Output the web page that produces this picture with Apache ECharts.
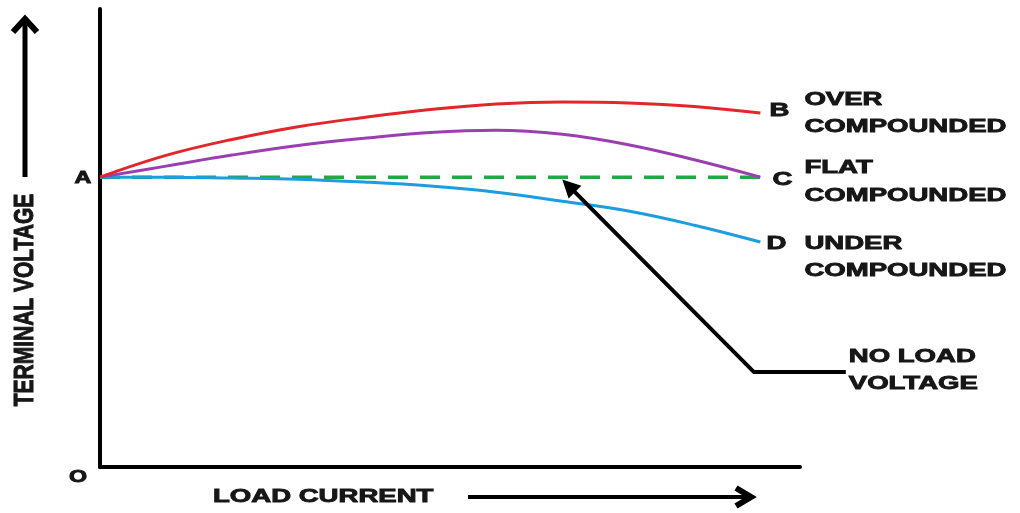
<!DOCTYPE html>
<html>
<head>
<meta charset="utf-8">
<script src="https://cdn.jsdelivr.net/npm/echarts@6/dist/echarts.min.js"></script>
<style>
html,body{margin:0;padding:0;background:#fff;}
#c{width:1020px;height:513px;}
</style>
</head>
<body>
<div id="c"></div>
<script>
// Load current (arbitrary units) and terminal voltage (% of no-load voltage)
const loadCurrent = [0, 1, 2, 3, 4, 5, 6, 7, 8, 9, 10];
const overCompounded  = [100, 107.5, 113.0, 117.4, 120.6, 123.3, 125.2, 125.9, 125.6, 124.4, 122.1];
const flatCompounded  = [100, 103.8, 107.6, 110.9, 113.4, 115.4, 116.2, 114.8, 111.2, 106.0, 100];
const underCompounded = [100, 100, 99.7, 99.3, 98.3, 96.9, 94.8, 91.7, 88.3, 83.4, 77.6];
const noLoadVoltage   = [100, 100, 100, 100, 100, 100, 100, 100, 100, 100, 100];

const endLetters = ['B', 'C', 'D'];
const endCaptions = [['OVER', 'COMPOUNDED'], ['FLAT', 'COMPOUNDED'], ['UNDER', 'COMPOUNDED']];
const noLoadCaption = ['NO LOAD', 'VOLTAGE'];
const axisTitles = { x: 'LOAD CURRENT', y: 'TERMINAL VOLTAGE', origin: 'O', start: 'A' };
// leader annotation anchor points in data space (tip on no-load line, elbow)
const leaderTip = [7.0, 99.2];
const leaderElbow = [9.9, 32.8];

const pairs = arr => loadCurrent.map((x, i) => [x, arr[i]]);

const chart = echarts.init(document.getElementById('c'), null, { renderer: 'canvas' });

const axisCommon = {
  type: 'value',
  axisLine: { show: true, onZero: false, lineStyle: { color: '#000', width: 4 } },
  axisTick: { show: false },
  axisLabel: { show: false },
  splitLine: { show: false }
};

const option = {
  animation: false,
  backgroundColor: '#fff',
  grid: { left: 100, right: 220, top: 9, bottom: 46, containLabel: false },
  xAxis: Object.assign({}, axisCommon, { min: 0, max: 10.6 }),
  yAxis: Object.assign({}, axisCommon, { min: 0, max: 158 }),
  series: [
    { name: 'No load voltage', type: 'line', data: pairs(noLoadVoltage), showSymbol: false, smooth: false,
      lineStyle: { color: '#22a743', width: 3.5, type: [20, 12] }, z: 2 },
    { name: 'Under compounded', type: 'line', data: pairs(underCompounded), showSymbol: false, smooth: 0.4,
      lineStyle: { color: '#1c9ddf', width: 3 }, z: 3 },
    { name: 'Flat compounded', type: 'line', data: pairs(flatCompounded), showSymbol: false, smooth: 0.4,
      lineStyle: { color: '#9b3fb0', width: 3 }, z: 4 },
    { name: 'Over compounded', type: 'line', data: pairs(overCompounded), showSymbol: false, smooth: 0.4,
      lineStyle: { color: '#e3262b', width: 3 }, z: 5 }
  ]
};
chart.setOption(option);

const P = v => chart.convertToPixel({ gridIndex: 0 }, v);
const FONT = 'bold 19px "Liberation Sans", Arial, sans-serif';
const SX = 1.45;
const INK = '#161616';
function txt(text, x, y, align, font) {
  return { type: 'text', x: x, y: y, scaleX: SX, z: 20,
    style: { text: text, font: font || FONT, fill: INK, stroke: INK, lineWidth: 0.9,
      align: align || 'left', verticalAlign: 'middle' } };
}

const last = loadCurrent.length - 1;
const ends = [
  P([loadCurrent[last], overCompounded[last]]),
  P([loadCurrent[last], flatCompounded[last]]),
  P([loadCurrent[last], underCompounded[last]])
];
const letterOff = [[19, -2], [22, 3], [16, 2]];
const capY = [[-13, 14], [-9, 19], [2, 29]];
const g = [];
ends.forEach((p, i) => {
  g.push(txt(endLetters[i], p[0] + letterOff[i][0], p[1] + letterOff[i][1], 'center'));
  const lx = p[0] + 44;
  g.push(txt(endCaptions[i][0], lx, p[1] + capY[i][0], 'left'));
  g.push(txt(endCaptions[i][1], lx, p[1] + capY[i][1], 'left'));
});

const origin = P([0, 0]);
const aPt = P([0, noLoadVoltage[0]]);
g.push(txt(axisTitles.start, aPt[0] - 17, aPt[1] + 1, 'center', 'bold 16px "Liberation Sans", Arial, sans-serif'));
g.push(txt(axisTitles.origin, origin[0] - 22, origin[1] + 11, 'center', 'bold 16px "Liberation Sans", Arial, sans-serif'));

// x axis title and arrow
g.push(txt(axisTitles.x, origin[0] + 113, origin[1] + 30, 'left'));
g.push({ type: 'line', z: 20, shape: { x1: origin[0] + 368, y1: origin[1] + 30, x2: origin[0] + 646, y2: origin[1] + 30 },
  style: { stroke: '#000', lineWidth: 4 } });
g.push({ type: 'polyline', z: 20, shape: { points: [[origin[0] + 636, origin[1] + 21], [origin[0] + 651, origin[1] + 30], [origin[0] + 636, origin[1] + 39]] },
  style: { stroke: '#000', lineWidth: 6, fill: null, lineJoin: 'miter' } });

// y axis title (rotated) and arrow
g.push({ type: 'text', x: 25, y: 300, rotation: Math.PI / 2, scaleY: 1.3, z: 20,
  style: { text: axisTitles.y, font: 'bold 21px "Liberation Sans", Arial, sans-serif', fill: INK, stroke: INK, lineWidth: 0.8,
    align: 'center', verticalAlign: 'middle' } });
g.push({ type: 'line', z: 20, shape: { x1: 25, y1: 177, x2: 25, y2: 22 }, style: { stroke: '#000', lineWidth: 5 } });
g.push({ type: 'polyline', z: 20, shape: { points: [[13, 32], [25, 19], [37, 32]] },
  style: { stroke: '#000', lineWidth: 6, fill: null, lineJoin: 'miter' } });

// leader to no-load voltage
const tip = P(leaderTip);
const elbow = P(leaderElbow);
const endX = elbow[0] + 92;
const ang = Math.atan2(elbow[1] - tip[1], elbow[0] - tip[0]);
const shaftStart = [tip[0] + Math.cos(ang) * 12, tip[1] + Math.sin(ang) * 12];
g.push({ type: 'polyline', z: 20, shape: { points: [[endX, elbow[1]], elbow, shaftStart] },
  style: { stroke: '#000', lineWidth: 4, fill: null, lineJoin: 'round' } });
const hl = 18, hw = 9;
const bx = tip[0] + Math.cos(ang) * hl, by = tip[1] + Math.sin(ang) * hl;
const nx = -Math.sin(ang), ny = Math.cos(ang);
g.push({ type: 'polygon', z: 21, shape: { points: [tip, [bx + nx * hw, by + ny * hw], [bx - nx * hw, by - ny * hw]] },
  style: { fill: '#000' } });
g.push(txt(noLoadCaption[0], endX + 3, elbow[1] - 15, 'left'));
g.push(txt(noLoadCaption[1], endX + 3, elbow[1] + 12, 'left'));

chart.setOption({ graphic: g });
</script>
</body>
</html>
